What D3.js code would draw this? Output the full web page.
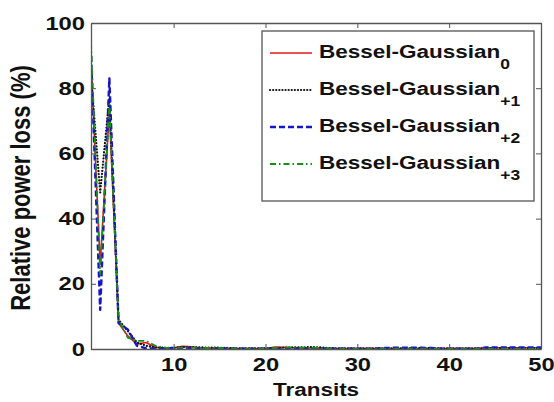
<!DOCTYPE html>
<html>
<head>
<meta charset="utf-8">
<script src="https://cdn.jsdelivr.net/npm/d3@7/dist/d3.min.js"></script>
<style>
  html, body { margin: 0; padding: 0; background: #fff; }
  svg { display: block; }
  text { font-family: "Liberation Sans", Arial, sans-serif; font-weight: bold; fill: #111; }
</style>
</head>
<body>
<svg id="chart" width="554" height="402"></svg>
<script>
// ---- data ----
const transits = d3.range(1, 51);
const seriesNames = ["0", "+1", "+2", "+3"];
const bg0 = [88, 26, 73, 8, 4, 1.5, 2, 0.5, 0.3, 0.4, 0.8, 0.7, 0.3, 0.2, 0.2, 0.1, 0.1, 0.1, 0.1, 0.1,
             0.6, 0.5, 0.4, 0.3, 0.3, 0.2, 0.1, 0.1, 0.1, 0.1, 0.1, 0.1, 0.1, 0.1, 0.1, 0.1, 0.1, 0.1, 0.1, 0.1,
             0.1, 0.1, 0.1, 0.4, 0.4, 0.4, 0.4, 0.4, 0.4, 0.4];
const bg1 = [84, 48, 77, 9, 5.5, 2, 1, 0.5, 0.4, 0.3, 0.6, 0.5, 0.5, 0.4, 0.4, 0.3, 0.2, 0.2, 0.2, 0.2,
             0.3, 0.4, 0.5, 0.5, 0.6, 0.5, 0.3, 0.2, 0.2, 0.2, 0.2, 0.2, 0.2, 0.2, 0.2, 0.3, 0.3, 0.3, 0.2, 0.2,
             0.2, 0.2, 0.2, 0.2, 0.3, 0.3, 0.3, 0.3, 0.3, 0.3];
const bg2 = [90, 12, 83, 8, 6, 1, 0.2, 0.2, 0.2, 0.3, 0.3, 0.3, 0.2, 0.2, 0.2, 0.1, 0.1, 0.1, 0.1, 0.1,
             0.1, 0.1, 0.1, 0.1, 0.1, 0.1, 0.1, 0.1, 0.1, 0.1, 0.1, 0.1, 0.3, 0.4, 0.4, 0.4, 0.4, 0.3, 0.1, 0.1,
             0.1, 0.1, 0.1, 0.5, 0.5, 0.5, 0.5, 0.5, 0.5, 0.5];
const bg3 = [94, 23, 75, 9, 3.5, 2.5, 2.5, 1, 0.4, 0.3, 0.4, 0.4, 0.3, 0.3, 0.3, 0.2, 0.1, 0.1, 0.1, 0.1,
             0.3, 0.4, 0.5, 0.4, 0.4, 0.3, 0.2, 0.1, 0.1, 0.1, 0.1, 0.1, 0.1, 0.1, 0.1, 0.1, 0.1, 0.1, 0.1, 0.1,
             0.1, 0.1, 0.1, 0.1, 0.1, 0.1, 0.1, 0.1, 0.1, 0.1];
const xTicks = [10, 20, 30, 40, 50];
const yTicks = [0, 20, 40, 60, 80, 100];

// ---- layout ----
const L = 91, R = 541, T = 23, B = 349;
const SX = 1.25; // horizontal stretch of text in the reference
const svg = d3.select("#chart");
const x = d3.scaleLinear().domain([1, 50]).range([L, R]);
const y = d3.scaleLinear().domain([0, 100]).range([B, T]);

const styles = [
  { data: bg0, color: "#e01818", dash: null, width: 1.6, cap: "butt" },
  { data: bg1, color: "#111111", dash: "0.1,3", width: 2.2, cap: "round" },
  { data: bg2, color: "#1515c8", dash: "6,3", width: 2.4, cap: "butt" },
  { data: bg3, color: "#169016", dash: "6,3,1.5,3", width: 1.8, cap: "butt" }
];

// clip
svg.append("defs").append("clipPath").attr("id", "clip")
  .append("rect").attr("x", L).attr("y", T).attr("width", R - L).attr("height", B - T);

// lines
const line = d3.line().x((d, i) => x(transits[i])).y(d => y(d));
const g = svg.append("g").attr("clip-path", "url(#clip)");
styles.forEach(s => {
  g.append("path").datum(s.data)
    .attr("d", line)
    .attr("fill", "none")
    .attr("stroke", s.color)
    .attr("stroke-width", s.width)
    .attr("stroke-linecap", s.cap)
    .attr("stroke-linejoin", "round")
    .attr("stroke-dasharray", s.dash);
});

// axes
const axCol = "#555";
const xAxis = svg.append("g").attr("transform", `translate(0,${B})`)
  .call(d3.axisBottom(x).tickValues(xTicks).tickSizeInner(-5).tickSizeOuter(0).tickPadding(9));
const yAxis = svg.append("g").attr("transform", `translate(${L},0)`)
  .call(d3.axisLeft(y).tickValues(yTicks).tickSizeInner(-5).tickSizeOuter(0).tickPadding(5));
const xTop = svg.append("g").attr("transform", `translate(0,${T})`)
  .call(d3.axisTop(x).tickValues(xTicks).tickSizeInner(-5).tickSizeOuter(0).tickFormat(""));
const yRight = svg.append("g").attr("transform", `translate(${R},0)`)
  .call(d3.axisRight(y).tickValues(yTicks).tickSizeInner(-5).tickSizeOuter(0).tickFormat(""));
[xAxis, yAxis, xTop, yRight].forEach(a => {
  a.select(".domain").attr("stroke", axCol).attr("stroke-width", 1.3);
  a.selectAll(".tick line").attr("stroke", axCol).attr("stroke-width", 1);
  a.selectAll("text").attr("font-family", null).attr("font-size", null)
    .style("font-size", "19px").style("font-weight", "bold").style("fill", "#111");
});
xAxis.selectAll(".tick text").attr("transform", `scale(${SX},1)`);
yAxis.selectAll(".tick text").attr("x", -6 / SX).attr("transform", `scale(${SX},1)`);

// axis titles
svg.append("text")
  .attr("transform", `translate(${(L + R) / 2},${396}) scale(${SX},1)`)
  .attr("text-anchor", "middle").style("font-size", "18px").text("Transits");
svg.append("text")
  .attr("transform", `translate(${30},${(T + B) / 2 + 2}) rotate(-90) scale(1,${SX})`)
  .attr("text-anchor", "middle").style("font-size", "22px").text("Relative power loss (%)");

// legend
const lg = svg.append("g");
lg.append("rect").attr("x", 262).attr("y", 31).attr("width", 272).attr("height", 170)
  .attr("fill", "#fff").attr("stroke", "#555").attr("stroke-width", 1.3);
const rowY = [53, 90, 127, 164];
styles.forEach((s, i) => {
  lg.append("line").attr("x1", 270).attr("x2", 312).attr("y1", rowY[i]).attr("y2", rowY[i])
    .attr("stroke", s.color).attr("stroke-width", s.width)
    .attr("stroke-linecap", s.cap).attr("stroke-dasharray", s.dash);
  const t = lg.append("text")
    .attr("transform", `translate(319,${rowY[i] + 5}) scale(${SX},1)`)
    .style("font-size", "18px");
  t.append("tspan").text("Bessel-Gaussian");
  t.append("tspan").attr("dy", 11).style("font-size", "14px").text(seriesNames[i]);
});
</script>
</body>
</html>
